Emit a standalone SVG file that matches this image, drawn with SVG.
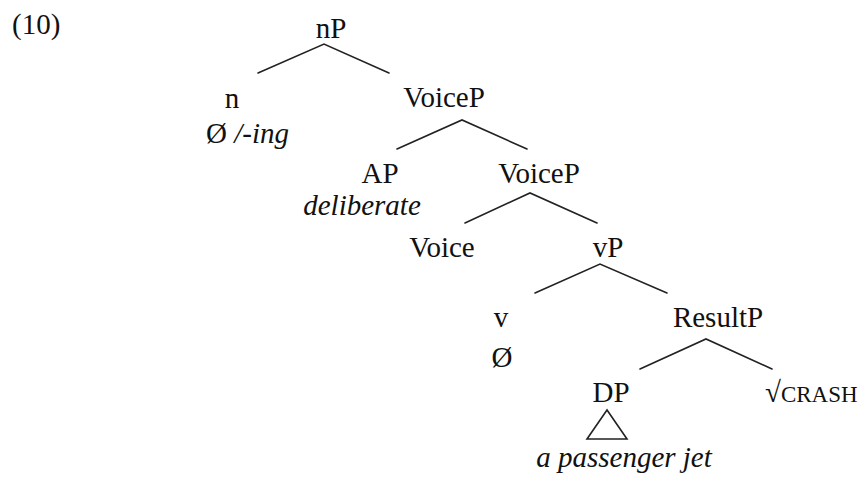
<svg xmlns="http://www.w3.org/2000/svg" width="861" height="479" viewBox="0 0 861 479">
<style>
text{font-family:"Liberation Serif","Times New Roman",serif;font-size:29px;fill:#111}
.m{text-anchor:middle}
.i{font-style:italic}
.sc{font-size:23px}
.e{stroke:#222;stroke-width:1.6;fill:none;stroke-linecap:round}
</style>
<rect width="861" height="479" fill="#fff"/>
<text id="label" x="12" y="34">(10)</text>
<g id="connectors">
<path class="e" d="M258,73 L324,44 L389,73"/>
<path class="e" d="M397,149 L462,120 L527,149"/>
<path class="e" d="M465,223 L530,193 L597,223"/>
<path class="e" d="M535,293 L600,264 L667,293"/>
<path class="e" d="M640,369 L706,339 L772,369"/>
<path class="e" d="M607,410 L587,439 L627,439 Z"/>
</g>
<g id="nP"><text class="m" x="331" y="38">nP</text></g>
<g id="n"><text class="m" x="232" y="108">n</text><text x="206" y="143">Ø <tspan class="i">/-ing</tspan></text></g>
<g id="VoiceP1"><text class="m" x="444" y="107">VoiceP</text></g>
<g id="AP"><text class="m" x="380" y="183">AP</text><text class="m i" x="362" y="215">deliberate</text></g>
<g id="VoiceP2"><text class="m" x="539" y="183">VoiceP</text></g>
<g id="Voice"><text class="m" x="442" y="257">Voice</text></g>
<g id="vP"><text class="m" x="608" y="257">vP</text></g>
<g id="v"><text class="m" x="501" y="327">v</text><text class="m" x="502" y="367">Ø</text></g>
<g id="ResultP"><text class="m" x="718" y="327">ResultP</text></g>
<g id="DP"><text class="m" x="611" y="402">DP</text><text class="m i" x="624" y="467">a passenger jet</text></g>
<g id="CRASH"><text x="765" y="402">√<tspan class="sc">CRASH</tspan></text></g>
</svg>
